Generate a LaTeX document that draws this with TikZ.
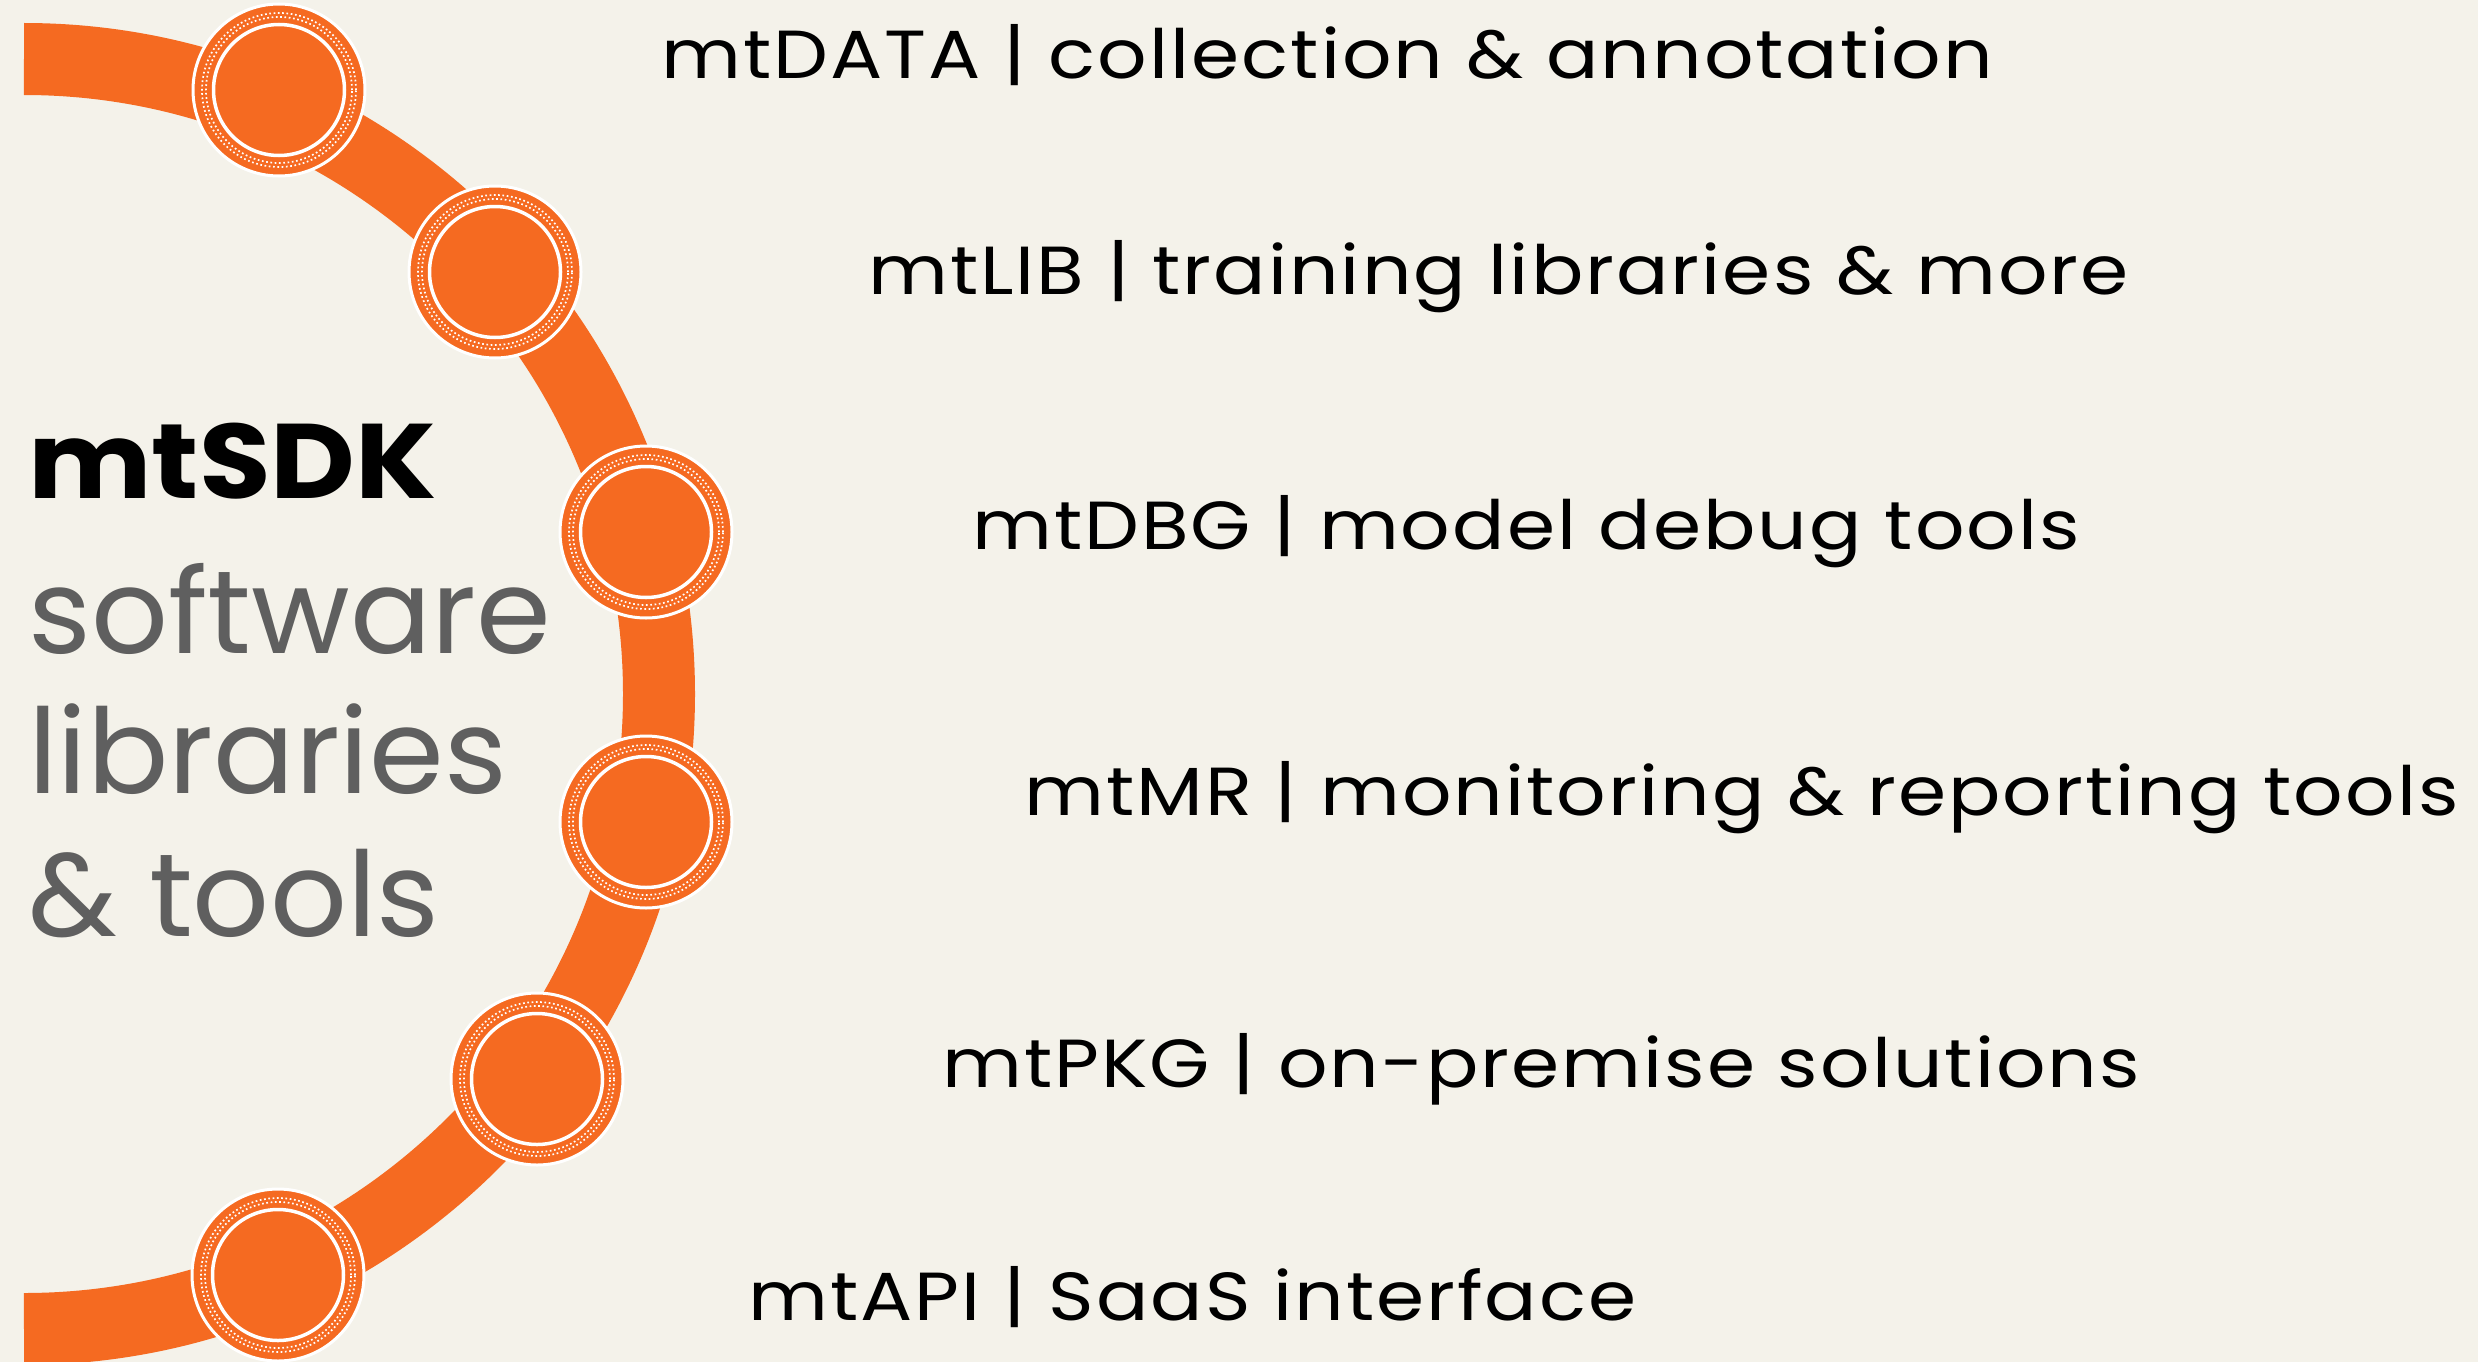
\documentclass[tikz,border=0pt]{standalone}
\usepackage{fontspec}
\setmainfont{Poppins}
\newfontfamily\labfont[FakeStretch=1.14, LetterSpace=3]{Poppins}
\newfontfamily\titlefont[FakeStretch=1.1]{Poppins}
\newfontfamily\bigfont[FakeStretch=1.02]{Poppins}
\definecolor{bgc}{HTML}{F4F2EA}
\definecolor{orng}{HTML}{F56A21}
\definecolor{greytxt}{HTML}{5F5F5F}
\begin{document}
\begin{tikzpicture}[x=1pt,y=-1pt,
  hub/.style={circle, inner sep=0pt, minimum size=172pt, fill=orng, draw=white, line width=3pt,
    path picture={
      \draw[white, line width=1.7pt, dash pattern=on 1.7pt off 2.6pt] (path picture bounding box.center) circle (77pt);
      \draw[white, line width=1.7pt, dash pattern=on 1.7pt off 2.6pt] (path picture bounding box.center) circle (73pt);
      \draw[white, line width=3.5pt] (path picture bounding box.center) circle (65.5pt);
    }},
  lab/.style={anchor=base west, inner sep=0pt, font=\fontsize{68}{74}\selectfont\labfont, text=black},
  big/.style={anchor=base west, inner sep=0pt, font=\fontsize{118}{130}\selectfont\bigfont, text=greytxt},
  title/.style={anchor=base west, inner sep=0pt, font=\fontsize{106}{120}\selectfont\titlefont\bfseries, text=black}
]
\useasboundingbox (0,0) rectangle (2478,1362);
\fill[bgc] (0,0) rectangle (2478,1362);
% arc band
\coordinate (arcstart) at (24,59);
\draw[orng, line width=72pt] (arcstart) arc[start angle=90, end angle=-90, radius=635pt];
% hubs
\node[hub] (c1) at (279,90) {};
\node[hub] (c2) at (495,272) {};
\node[hub] (c3) at (646,532) {};
\node[hub] (c4) at (646,822) {};
\node[hub] (c5) at (537,1079) {};
\node[hub] (c6) at (278,1275) {};
% left title
\node[title] (t0) at (28,498) {mtSDK};
\node[big] (t1) at (28,653) {software};
\node[big] (t2) at (28,793) {libraries};
\node[big] (t3) at (28,936) {\& tools};
% labels
\node[lab] (l1) at (661,79) {mtDATA | collection \& annotation};
\node[lab] (l2) at (868,294) {mtLIB | training libraries \& more};
\node[lab] (l3) at (972,549) {mtDBG | model debug tools};
\node[lab] (l4) at (1024,815) {mtMR | monitoring \& reporting tools};
\node[lab] (l5) at (942,1087) {mtPKG | on-premise solutions};
\node[lab] (l6) at (748,1320) {mtAPI | SaaS interface};
\end{tikzpicture}
\end{document}
